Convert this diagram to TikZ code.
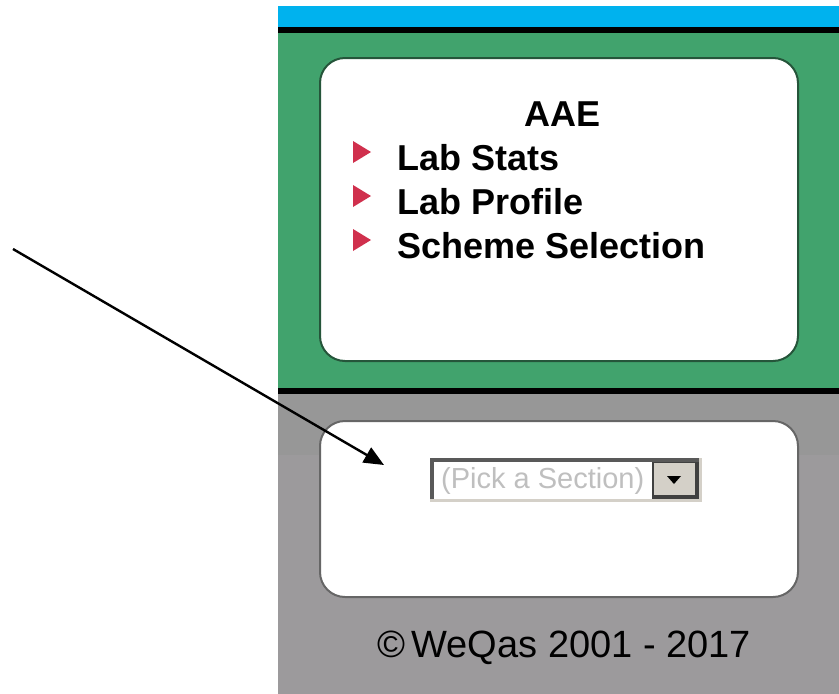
\documentclass[tikz,border=0pt]{standalone}
\usepackage{fontspec}
\usepackage{xcolor}
\setmainfont{Liberation Sans}
\usetikzlibrary{arrows.meta}
\definecolor{skyband}{HTML}{00B2EE}
\definecolor{panelgreen}{HTML}{41A36D}
\definecolor{greenedge}{HTML}{25553A}
\definecolor{panelgray}{HTML}{9C9A9C}
\definecolor{dithergray}{HTML}{979797}
\definecolor{bulletred}{HTML}{D0304D}
\definecolor{btnface}{HTML}{D4D0C8}

\begin{document}
\begin{tikzpicture}[x=1pt, y=-1pt,
    card/.style={fill=white, rounded corners=25pt, line width=2pt},
    menuitem/.style={anchor=west, font=\bfseries\fontsize{36}{40}\selectfont, inner sep=0pt},
    bullet/.style={fill=bulletred, draw=none}]
  % Background
  \useasboundingbox (0, 0) rectangle (839, 694);
  \fill[white] (0, 0) rectangle (839, 694);

  % Side panel bands
  \fill[skyband] (278, 6) rectangle (839, 28);
  \fill[panelgreen] (278, 33) rectangle (839, 389);
  \fill[panelgray] (278, 393) rectangle (839, 694);
  \fill[dithergray] (278, 393) rectangle (839, 455);
  \fill[black] (278, 27) rectangle (839, 33);
  \fill[black] (278, 388) rectangle (839, 394);

  % Menu card
  \draw[card, draw=greenedge] (320, 58) rectangle (798, 361);
  \node[font=\bfseries\fontsize{36}{40}\selectfont] (title) at (563, 114) {AAE};
  \node[menuitem] (stats) at (397, 158) {Lab Stats};
  \node[menuitem] (profile) at (397, 202) {Lab Profile};
  \node[menuitem] (scheme) at (397, 246) {Scheme Selection};
  \foreach \y in {152, 196, 240}
    \fill[bullet] (353, \y-11) -- (371, \y) -- (353, \y+11) -- cycle;

  % Section card
  \draw[card, draw=black!60] (320, 421) rectangle (798, 597);
  \fill[btnface] (430, 458) rectangle (702, 502);
  \fill[black!65] (430, 458) rectangle (699, 499);
  \fill[white] (434, 462) rectangle (699, 499);
  \fill[black!75] (652, 462) rectangle (699, 499);
  \fill[btnface] (654, 463) rectangle (695, 495);
  \fill[black] (667, 476) -- (681, 476) -- (674, 484) -- cycle;
  \node[anchor=west, text=black!25, font=\fontsize{29}{32}\selectfont, inner sep=0pt]
    (dropdown) at (441, 481) {(Pick a Section)};

  % Footer
  \node[font=\fontsize{38}{42}\selectfont] (footer) at (564, 648) {©\,WeQas 2001 - 2017};

  % Pointer
  \coordinate (tail) at (13, 249);
  \coordinate (tip) at (384, 465);
  \draw[line width=2.4pt, -{Triangle[length=20pt, width=17pt]}] (tail) -- (tip);
\end{tikzpicture}
\end{document}
